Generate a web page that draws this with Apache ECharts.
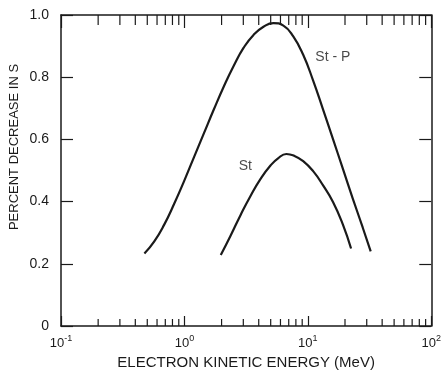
<!DOCTYPE html>
<html>
<head>
<meta charset="utf-8">
<script src="https://cdn.jsdelivr.net/npm/echarts@6/dist/echarts.min.js"></script>
<style>html,body{margin:0;padding:0;background:#fff;}#c{width:444px;height:375px;}</style>
</head>
<body>
<div id="c"></div>
<script>
// Curve St-P: [energy MeV, percent decrease]
const stP = [[0.474,0.233],[0.570,0.272],[0.686,0.326],[0.826,0.393],[0.994,0.466],[1.196,0.543],[1.44,0.620],[1.73,0.696],[2.085,0.770],[2.51,0.837],[3.02,0.895],[3.63,0.936],[4.37,0.962],[5.26,0.974],[6.34,0.966],[7.62,0.931],[9.17,0.872],[11.04,0.789],[13.29,0.696],[15.99,0.601],[19.24,0.505],[23.16,0.409],[27.87,0.316],[32.3,0.240]];
// Curve St
const st = [[1.97,0.228],[2.37,0.291],[2.86,0.358],[3.44,0.419],[4.14,0.473],[4.98,0.516],[5.77,0.540],[6.70,0.553],[7.77,0.547],[9.17,0.530],[11.04,0.498],[13.29,0.452],[15.99,0.399],[19.24,0.326],[22.4,0.249]];
// curve labels and their anchor points (data space)
const curveLabels = ['St - P','St'];
const labelAnchors = [[11.5,0.866],[2.75,0.514]];
// axis ticks
const xTickLabels = {0.1:'{b|10}{s|-1}',1:'{b|10}{s|0}',10:'{b|10}{s|1}',100:'{b|10}{s|2}'};
const xMinorTicks = [0.2,0.3,0.4,0.5,0.6,0.7,0.8,0.9,2,3,4,5,6,7,8,9,20,30,40,50,60,70,80,90];

const ink = '#1a1a1a';
const font = 'Liberation Sans, Arial, sans-serif';
const chart = echarts.init(document.getElementById('c'), null, {renderer:'canvas'});
const lineStyle = {color:ink,width:1.5};
chart.setOption({
  animation:false,
  backgroundColor:'#fff',
  grid:{left:61,right:10,top:15,bottom:47},
  xAxis:[{
    type:'log',logBase:10,min:0.1,max:100,position:'bottom',
    axisLine:{show:true,onZero:false,lineStyle:lineStyle},
    axisTick:{show:true,inside:true,length:10,lineStyle:{color:ink,width:1.2}},
    splitLine:{show:false},
    axisLabel:{margin:8,formatter:v=>xTickLabels[v]||'',
      rich:{b:{fontFamily:font,fontSize:13,color:ink},s:{fontFamily:font,fontSize:9,color:ink,padding:[0,0,9,0]}}},
    name:'ELECTRON KINETIC ENERGY (MeV)',nameLocation:'middle',nameGap:29,
    nameTextStyle:{fontFamily:font,fontSize:15,color:ink}
  },{
    type:'log',logBase:10,min:0.1,max:100,position:'top',
    axisLine:{show:true,onZero:false,lineStyle:lineStyle},
    axisTick:{show:true,inside:true,length:13,lineStyle:{color:ink,width:1.2}},
    axisLabel:{show:false},splitLine:{show:false}
  }],
  yAxis:[{
    type:'value',min:0,max:1,interval:0.2,position:'left',
    axisLine:{show:true,onZero:false,lineStyle:lineStyle},
    axisTick:{show:true,inside:true,length:12,lineStyle:{color:ink,width:1.2}},
    splitLine:{show:false},
    axisLabel:{margin:12,fontFamily:font,fontSize:14,color:ink,formatter:v=>v===0?'0':v.toFixed(1)}
  },{
    type:'value',min:0,max:1,interval:0.2,position:'right',
    axisLine:{show:true,onZero:false,lineStyle:lineStyle},
    axisTick:{show:true,inside:true,length:12,lineStyle:{color:ink,width:1.2}},
    axisLabel:{show:false},splitLine:{show:false}
  }],
  graphic:[{type:'text',x:14,y:147,rotation:Math.PI/2,
    style:{text:'PERCENT DECREASE IN S',font:'13px '+font,fill:ink,textAlign:'center',textVerticalAlign:'middle'}}],
  series:[
    {type:'line',name:'St-P',data:stP,smooth:0.5,showSymbol:false,lineStyle:{color:ink,width:2.2},xAxisIndex:0,yAxisIndex:0},
    {type:'line',name:'St',data:st,smooth:0.5,showSymbol:false,lineStyle:{color:ink,width:2.2},xAxisIndex:0,yAxisIndex:0},
    {type:'scatter',symbolSize:0,data:labelAnchors.map((p,i)=>({value:p,name:curveLabels[i]})),
      label:{show:true,position:'right',distance:0,formatter:p=>p.name,fontFamily:font,fontSize:14,color:ink}},
    {type:'custom',xAxisIndex:0,yAxisIndex:0,clip:false,data:xMinorTicks.map(v=>[v,0]),
      renderItem:function(params,api){
        const x=api.value(0);
        const pb=api.coord([x,0]);const pt=api.coord([x,1]);
        return {type:'group',children:[
          {type:'line',shape:{x1:pb[0],y1:pb[1],x2:pb[0],y2:pb[1]-7},style:{stroke:ink,lineWidth:1.2}},
          {type:'line',shape:{x1:pt[0],y1:pt[1],x2:pt[0],y2:pt[1]+10},style:{stroke:ink,lineWidth:1.2}}
        ]};
      }}
  ]
});
</script>
</body>
</html>
